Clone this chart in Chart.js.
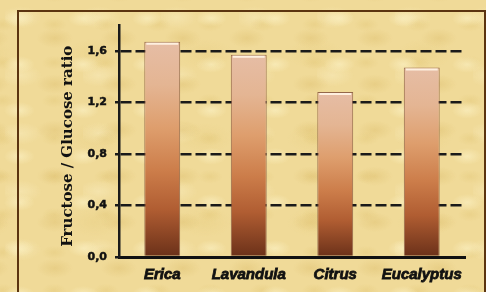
<!DOCTYPE html>
<html>
<head>
<meta charset="utf-8">
<script src="https://cdn.jsdelivr.net/npm/chart.js@4/dist/chart.umd.min.js"></script>
<style>
  html, body { margin: 0; padding: 0; }
  body {
    width: 486px; height: 292px; overflow: hidden; position: relative;
    background-color: #F0DA98;
    background-image:
      radial-gradient(ellipse 22px 12px at 30% 40%, rgba(250,238,190,0.75), rgba(250,238,190,0) 70%),
      radial-gradient(ellipse 26px 14px at 70% 70%, rgba(222,192,112,0.45), rgba(222,192,112,0) 70%),
      radial-gradient(ellipse 18px 10px at 60% 20%, rgba(226,198,118,0.4), rgba(226,198,118,0) 70%),
      radial-gradient(ellipse 30px 16px at 20% 80%, rgba(248,234,185,0.6), rgba(248,234,185,0) 70%),
      radial-gradient(ellipse 40px 22px at 50% 50%, rgba(230,204,125,0.35), rgba(230,204,125,0) 70%);
    background-size: 64px 46px, 64px 46px, 52px 38px, 78px 58px, 110px 84px;
    background-position: 0 0, 10px 6px, 23px 17px, 5px 29px, 40px 12px;
  }
  #frame {
    position: absolute; left: 17px; top: 10px; width: 469px; height: 300px;
    box-sizing: border-box; border: 2px solid #5B3410; border-bottom: none;
  }
  #wrap { position: absolute; left: 0; top: 0; width: 486px; height: 292px; }
</style>
</head>
<body>
<div id="frame"></div>
<div id="wrap"><canvas id="c" width="486" height="292"></canvas></div>
<script>
const categories = ['Erica', 'Lavandula', 'Citrus', 'Eucalyptus'];
const ratioValues = [1.67, 1.57, 1.28, 1.47];
const yTickValues = [0, 0.4, 0.8, 1.2, 1.6];
const yAxisTitle = 'Fructose / Glucose ratio';

function barGradient(ctx) {
  const chart = ctx.chart;
  const y = chart.scales && chart.scales.y;
  if (!y || ctx.dataIndex === undefined) return '#C87848';
  const top = y.getPixelForValue(ratioValues[ctx.dataIndex]);
  const bottom = y.getPixelForValue(0);
  if (!isFinite(top) || !isFinite(bottom) || top === bottom) return '#C87848';
  const g = chart.ctx.createLinearGradient(0, top, 0, bottom);
  g.addColorStop(0, '#E6BDA5');
  g.addColorStop(0.2, '#E4B593');
  g.addColorStop(0.4, '#DE9E6D');
  g.addColorStop(0.6, '#CC7D4A');
  g.addColorStop(0.78, '#B05D32');
  g.addColorStop(1, '#6A3019');
  return g;
}

const highlight = {
  id: 'highlight',
  afterDatasetsDraw(chart) {
    const meta = chart.getDatasetMeta(0);
    const c = chart.ctx;
    c.save();
    meta.data.forEach(el => {
      const half = el.width / 2;
      c.strokeStyle = 'rgba(255,242,228,0.95)';
      c.lineWidth = 2;
      c.beginPath();
      c.moveTo(el.x - half + 2, el.y + 2);
      c.lineTo(el.x + half - 2, el.y + 2);
      c.stroke();
    });
    c.restore();
  }
};

new Chart(document.getElementById('c'), {
  type: 'bar',
  data: {
    labels: categories,
    datasets: [{
      data: ratioValues,
      backgroundColor: barGradient,
      borderColor: 'rgba(125,75,55,0.8)',
      borderWidth: 1,
      borderSkipped: 'bottom',
      barPercentage: 0.415,
      categoryPercentage: 1
    }]
  },
  options: {
    responsive: false,
    animation: false,
    devicePixelRatio: 1,
    layout: { padding: { left: 55, right: 21, top: 25, bottom: 0 } },
    plugins: { legend: { display: false }, tooltip: { enabled: false } },
    scales: {
      x: {
        grid: { display: false, drawTicks: false },
        border: { display: true, color: '#111', width: 3 },
        ticks: {
          color: '#111',
          padding: 9,
          textStrokeColor: '#111',
          textStrokeWidth: 0.8,
          font: { family: 'Liberation Sans', size: 15, weight: 'bold', style: 'italic' }
        },
        afterFit(scale) { scale.height = 35; }
      },
      y: {
        min: 0,
        max: 1.8,
        afterBuildTicks(scale) { scale.ticks = yTickValues.map(v => ({ value: v })); },
        grid: {
          color: '#1a1a1a',
          lineWidth: 2.5,
          tickLength: 4,
          tickColor: '#1a1a1a',
          tickWidth: 2.5,
          tickBorderDash: []
        },
        border: { display: true, color: '#1a1a1a', width: 2.5, dash: [11, 4] },
        ticks: {
          color: '#111',
          padding: 8,
          textStrokeColor: '#111',
          textStrokeWidth: 0.5,
          font: { family: 'DejaVu Sans', size: 11, weight: 'bold' },
          callback: v => Number(v).toFixed(1).replace('.', ',')
        },
        title: {
          display: true,
          text: yAxisTitle + '\u00a0\u00a0',
          color: '#111',
          padding: { top: 4, bottom: 4 },
          font: { family: 'DejaVu Serif', size: 15, weight: 'bold' }
        },
        afterFit(scale) { scale.width = 64; }
      }
    }
  },
  plugins: [highlight]
});
</script>
</body>
</html>
